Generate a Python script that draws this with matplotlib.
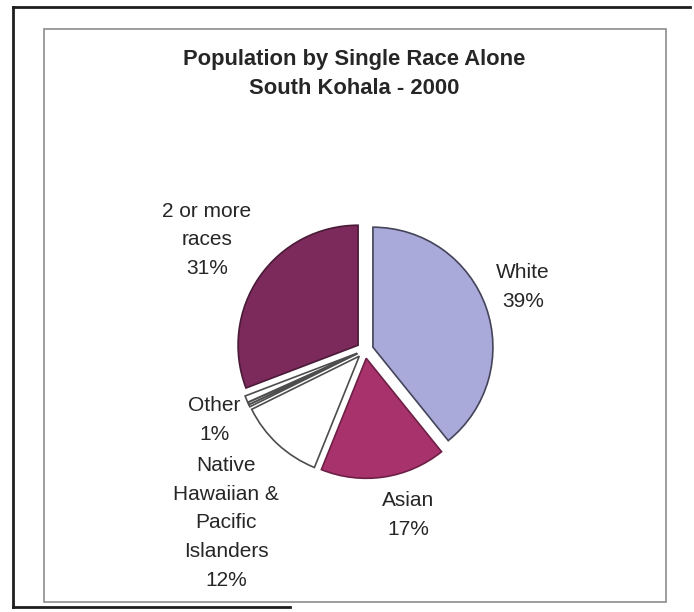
import matplotlib
matplotlib.use( "Agg" )
import matplotlib.pyplot as plt
from matplotlib.lines import Line2D
from matplotlib.patches import Rectangle

plt.rcParams['font.family'] = ['Liberation Sans', 'DejaVu Sans']

# data (clockwise from 12 o'clock)
races = ["White", "Asian", "Native Hawaiian & Pacific Islanders",
         "Black", "American Indian", "Other", "2 or more races"]
shares = [39.2, 16.9, 11.6, 0.3, 0.3, 0.9, 30.8]
colors = ["#a9a9da", "#a8336c", "#ffffff", "#ffffff", "#ffffff", "#ffffff", "#7c2a5c"]
edges = ["#44445a", "#6e1f46", "#4d4d4d", "#4d4d4d", "#4d4d4d", "#4d4d4d", "#4a1a38"]

labels = ["2 or more\nraces\n31%", "White\n39%", "Other\n1%",
          "Native\nHawaiian &\nPacific\nIslanders\n12%", "Asian\n17%"]
label_pos = [(207, 240), (523, 287), (214, 420), (226, 523), (408, 515)]

W, H = 694, 612
fig = plt.figure( figsize=(W/100, H/100), dpi=100 )

def fx( x ) :
    return x / W

def fy( y ) :
    return 1 - y / H

# frames
ink = "#1e1e1e"
fig.add_artist( Line2D( [fx(13), fx(690)], [fy(7), fy(7)], color=ink, lw=2 ) )
fig.add_artist( Line2D( [fx(13), fx(13)], [fy(7), fy(607)], color=ink, lw=2 ) )
fig.add_artist( Line2D( [fx(13), fx(290)], [fy(607), fy(607)], color=ink, lw=2 ) )
fig.add_artist( Rectangle( (fx(44), fy(602)), fx(666) - fx(44), fy(29) - fy(602),
                           fill=False, edgecolor="#8c8c8c", lw=1.2 ) )

# title
fig.text( fx(354), fy(59), "Population by Single Race Alone", ha="center", va="center",
          fontsize=15.8, fontweight="bold", color="#262626" )
fig.text( fx(354), fy(89), "South Kohala - 2000", ha="center", va="center",
          fontsize=15.8, fontweight="bold", color="#262626" )

# pie, centre (365, 350) px, radius 120 px
cx, cy, half = 365, 350, 150
ax = fig.add_axes( [fx(cx - half), fy(cy + half), 2*half/W, 2*half/H] )
wedges, _ = ax.pie( shares, colors=colors, startangle=90, counterclock=False,
                    explode=[0.07]*len(shares), radius=1.0,
                    wedgeprops=dict( linewidth=1.2 ) )
for w, e in zip( wedges, edges ) :
    w.set_edgecolor( e )
ax.set_xlim( -1.25, 1.25 )
ax.set_ylim( -1.25, 1.25 )
ax.set_aspect( "auto" )
ax.axis( "off" )

for txt, (x, y) in zip( labels, label_pos ) :
    fig.text( fx(x), fy(y), txt, ha="center", va="center", fontsize=15,
              linespacing=1.66, color="#262626" )

fig.savefig( "out.png", dpi=100 )
